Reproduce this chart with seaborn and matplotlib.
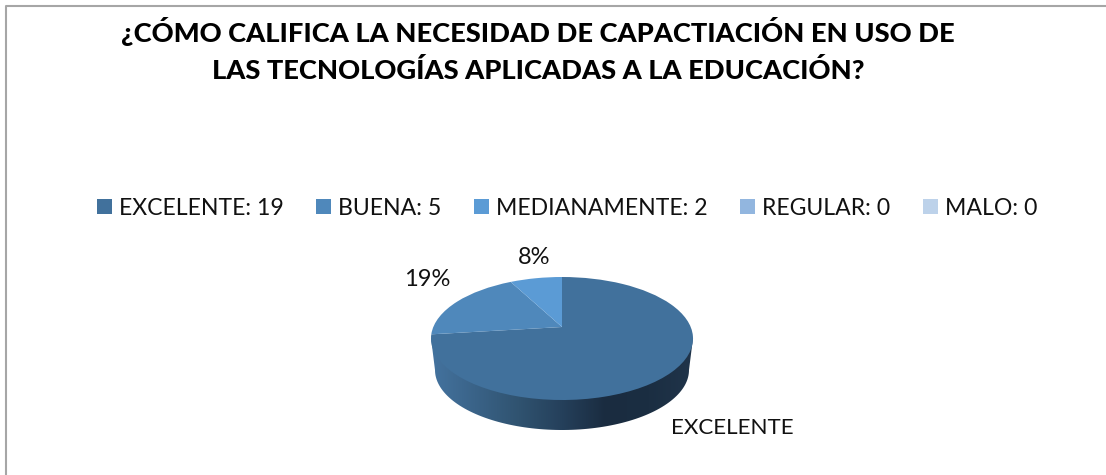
import numpy as np
import matplotlib
matplotlib.use('Agg')
import matplotlib.pyplot as plt
import matplotlib.transforms as mtransforms
from matplotlib.patches import Patch, Polygon
import seaborn as sns

## chart data
categories = ['EXCELENTE', 'BUENA', 'MEDIANAMENTE', 'REGULAR', 'MALO']
values = [19, 5, 2, 0, 0]
colors = ['#41719c', '#4f88bb', '#5b9bd5', '#92b6df', '#bdd2ea']
title_lines = ['¿CÓMO CALIFICA LA NECESIDAD DE CAPACTIACIÓN EN USO DE',
               'LAS TECNOLOGÍAS APLICADAS A LA EDUCACIÓN?']


class Tilt(mtransforms.Transform):
    # perspective view of the unit disc, gives the off-centre apex of a 3D pie
    input_dims = 2
    output_dims = 2

    def __init__(self, cx, cy, a, b, k):
        super().__init__()
        self.cx, self.cy, self.a, self.b, self.k = cx, cy, a, b, k

    def transform_non_affine(self, values):
        pts = np.asarray(values)
        w = 1 + self.k * pts[:, 1]
        return np.column_stack([self.cx + self.a * pts[:, 0] / w,
                                self.cy - self.b * pts[:, 1] / w])


def draw_side(ax):
    # side wall of the pie, lower half of a slightly smaller ellipse
    t = np.linspace(np.pi, 0, 100)
    rim = np.column_stack([562 + 127 * np.cos(t), 370 + 60 * np.sin(t)])
    outline = np.vstack([[431, 338], rim, [693, 338]])
    clip = Polygon(outline, closed=True, facecolor='none', edgecolor='none', transform=ax.transData)
    ax.add_patch(clip)
    cmap = sns.blend_palette(['#44739f', '#3a6388', '#305370', '#25405b', '#1a2c40', '#1b2e42', '#20344a'],
                             as_cmap=True)
    img = ax.imshow(np.linspace(0, 1, 256).reshape(1, -1), cmap=cmap, aspect='auto',
                    extent=(431, 693, 431, 330), zorder=1)
    img.set_clip_path(clip)


def main():
    sns.set_theme(style='white')
    plt.rcParams['font.family'] = ['Lato', 'DejaVu Sans']

    fig = plt.figure(figsize=(11.06, 4.75), dpi=100)
    ax = fig.add_axes([0, 0, 1, 1])

    wedges, _ = ax.pie(values, colors=colors, startangle=90, counterclock=False,
                       wedgeprops={'linewidth': 0, 'zorder': 2})
    tilt = Tilt(562, 327, 128.7, 59.35, 0.187)
    for wedge in wedges:
        wedge.set_transform(tilt + ax.transData)

    draw_side(ax)

    ax.set_aspect('auto')
    ax.set_xlim(0, 1106)
    ax.set_ylim(475, 0)
    ax.axis('off')

    # chart frame, only left and top edges are visible
    ax.plot([5.5, 5.5, 1106], [475, 5.5, 5.5], color='#a6a6a6', lw=1.5, clip_on=False, zorder=0)

    # title
    ax.text(538, 42, title_lines[0], ha='center', va='baseline', fontsize=19.6, fontweight='black', color='#000000')
    ax.text(538, 79, title_lines[1], ha='center', va='baseline', fontsize=19.6, fontweight='black', color='#000000')

    # data labels
    total = sum(values)
    ax.text(427, 280, f'{values[1] / total:.0%}', ha='center', va='center', fontsize=17, color='#111111')
    ax.text(534, 258, f'{values[2] / total:.0%}', ha='center', va='center', fontsize=17, color='#111111')
    ax.text(732.5, 428, categories[0], ha='center', va='center', fontsize=16.1, color='#111111')

    # legend
    handles = [Patch(facecolor=c, edgecolor='none') for c in colors]
    labels = [f'{c}: {v}' for c, v in zip(categories, values)]
    ax.legend(handles, labels, ncol=5, frameon=False, fontsize=16.6,
              loc='center', bbox_to_anchor=(567 / 1106, 1 - 208 / 475),
              handlelength=0.66, handleheight=0.66, handletextpad=0.3,
              columnspacing=1.4, labelcolor='#111111')

    fig.savefig('out.png', dpi=100)


if __name__ == "__main__":
    main()
